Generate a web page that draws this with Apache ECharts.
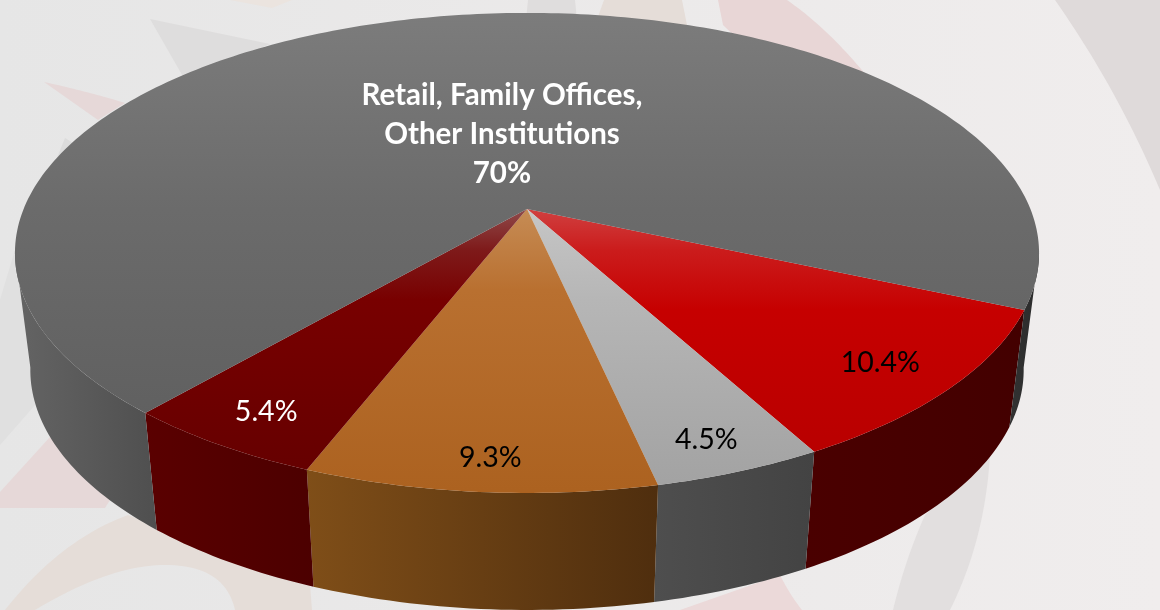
<!DOCTYPE html>
<html><head><meta charset="utf-8">
<style>html,body{margin:0;padding:0;background:#eaeaea}#c{width:1160px;height:610px}</style>
<script src="https://cdn.jsdelivr.net/npm/echarts@6/dist/echarts.min.js"></script>
</head><body><div id="c"></div>
<script>
const sliceNames = ['Red', 'Silver', 'Orange', 'Dark red', 'Retail, Family Offices, Other Institutions'];
const sliceValues = [10.4, 4.5, 9.3, 5.4, 70];
const sliceLabels = ['10.4%', '4.5%', '9.3%', '5.4%', 'Retail, Family Offices,\nOther Institutions\n70%'];

const START_DEG = 23.8;
const CX = 527, CY = 209, A = 503.4, B = 232, K = 0.183;   // perspective disc
const WALL_SCALE = 0.97, WALL_DROP = 117;

const labelAnchor = [[43, .857], [70.2, .89], [93.9, .895], [120.8, .873], [261.4, .354]];
const labelFill = ['#000', '#000', '#000', '#fff', '#fff'];
const labelWeight = ['normal', 'normal', 'normal', 'normal', 'bold'];

function vgrad(y0, y1, stops) {
  return {type: 'linear', x: 0, y: y0, x2: 0, y2: y1, global: true,
    colorStops: stops.map(s => ({offset: (s[0] - y0) / (y1 - y0), color: s[1]}))};
}
function hgrad(x0, x1, stops) {
  return {type: 'linear', x: x0, y: 0, x2: x1, y2: 0, global: true,
    colorStops: stops.map(s => ({offset: (s[0] - x0) / (x1 - x0), color: s[1]}))};
}
const topFills = [
  vgrad(209, 460, [[209, '#d04040'], [250, '#cb1c1c'], [310, '#c60000'], [460, '#b80000']]),
  vgrad(209, 490, [[209, '#c6c6c6'], [300, '#b6b6b6'], [490, '#a2a2a2']]),
  vgrad(209, 490, [[209, '#c68c55'], [290, '#b97030'], [490, '#ac6220']]),
  vgrad(209, 475, [[209, '#8f4a4a'], [250, '#7e1a1a'], [300, '#780000'], [475, '#650000']]),
  vgrad(13, 420, [[13, '#7c7c7c'], [209, '#6b6b6b'], [420, '#606060']])
];
const wallFills = [
  hgrad(806, 1026, [[806, '#4a0000'], [1026, '#430000']]),
  hgrad(655, 814, [[655, '#4e4e4e'], [814, '#434343']]),
  hgrad(307, 658, [[307, '#7f4e18'], [658, '#4f2e0e']]),
  hgrad(146, 314, [[146, '#5a0000'], [314, '#4c0000']]),
  hgrad(15, 1040, [[15, '#646464'], [157, '#4f4f4f'], [1005, '#333333'], [1040, '#2b2b2b']])
];

function project(deg, r) {
  const t = deg * Math.PI / 180, u = r * Math.cos(t), v = r * Math.sin(t), w = 1 - K * v;
  return [CX + A * u / w, CY + B * v / w];
}
function under(p) {
  return [CX + WALL_SCALE * (p[0] - CX), p[1] + WALL_DROP];
}
function sliceAngles(i) {
  const total = sliceValues.reduce((a, b) => a + b, 0);
  let s = 0;
  for (let k = 0; k < i; k++) s += sliceValues[k];
  return [START_DEG + s / total * 360, START_DEG + (s + sliceValues[i]) / total * 360];
}

// Angular ranges of the rim that face the viewer (between the disc's two tangent points)
const FRONT = [[10, 170], [370, 530]];
function renderWall(params, api) {
  const i = params.dataIndex, [a0, a1] = sliceAngles(i), fill = wallFills[i];
  const children = [];
  FRONT.forEach(r => {
    const lo = Math.max(a0, r[0]), hi = Math.min(a1, r[1]);
    if (hi <= lo) return;
    const upper = [], n = Math.ceil(hi - lo);
    for (let k = 0; k <= n; k++) upper.push(project(lo + (hi - lo) * k / n, 1));
    const pts = upper.concat(upper.map(under).reverse());
    children.push({type: 'polygon', shape: {points: pts}, style: {fill: fill}});
  });
  return {type: 'group', children};
}
function renderTop(params, api) {
  const i = params.dataIndex, [a0, a1] = sliceAngles(i);
  const pts = [[CX, CY]];
  const n = Math.ceil((a1 - a0) / 1);
  for (let k = 0; k <= n; k++) pts.push(project(a0 + (a1 - a0) * k / n, 1));
  return {type: 'polygon', shape: {points: pts}, style: {fill: topFills[i]}};
}
function renderLabel(params, api) {
  const i = params.dataIndex, p = project(labelAnchor[i][0], labelAnchor[i][1]);
  return {type: 'text', x: p[0], y: p[1] + 1.5, style: {
    text: sliceLabels[i], fill: labelFill[i], align: 'center', verticalAlign: 'middle',
    fontFamily: 'Lato', fontSize: i === 4 ? 29.5 : 28.5, fontWeight: labelWeight[i], lineHeight: 39}};
}

// Faint watermark behind the pie: outlines with optional quadratic curve segments
const backdrop = [
  ['1055,0 Q1118,90 1160,190 1160,0', '#dfdada'],
  ['718,0 723,25 760,60 870,80 Q830,30 787,0', '#e8d6d6'],
  ['604,0 595,25 690,40 682,0', '#e5ddd8'],
  ['528,0 526,20 577,20 575,0', '#dfdddd'],
  ['230,0 272,8 292,0', '#ebe4df'],
  ['150,19 185,80 270,44', '#dedddd'],
  ['44,82 Q90,92 125,103 98,120', '#e6d8d8'],
  ['65,138 78,146 50,175', '#dcdcdc'],
  ['15,250 0,300 0,445 35,405 30,340', '#e0e0e0'],
  ['0,492 50,437 110,500 105,508 0,508', '#e6d8d8'],
  ['5,610 Q60,540 128,515 310,585 312,610 235,610 Q225,565 165,565 Q110,565 35,610', '#e5ddd8'],
  ['680,610 780,575 Q790,595 802,610', '#ebd9d9'],
  ['990,455 Q985,540 950,610 893,610 Q905,560 925,515', '#e2dfdf']
];
function outline(str) {
  const out = [], toks = str.split(' ');
  for (let i = 0; i < toks.length; i++) {
    if (toks[i][0] === 'Q') {
      const c = toks[i].slice(1).split(',').map(Number), e = toks[++i].split(',').map(Number), s = out[out.length - 1];
      for (let k = 1; k <= 24; k++) {
        const t = k / 24, m = 1 - t;
        out.push([m * m * s[0] + 2 * m * t * c[0] + t * t * e[0], m * m * s[1] + 2 * m * t * c[1] + t * t * e[1]]);
      }
    } else out.push(toks[i].split(',').map(Number));
  }
  return out;
}

const chart = echarts.init(document.getElementById('c'), null, {renderer: 'canvas', width: 1160, height: 610});
const rows = sliceNames.map((n, i) => ({name: n, value: sliceValues[i]}));
chart.setOption({
  animation: false,
  backgroundColor: {type: 'linear', x: 0, y: 0, x2: 1, y2: 0,
    colorStops: [{offset: 0, color: '#e6e6e6'}, {offset: 1, color: '#f0eded'}]},
  graphic: backdrop.map(b => ({type: 'polygon', z: 0, silent: true,
    shape: {points: outline(b[0])}, style: {fill: b[1]}})),
  series: [
    {type: 'custom', coordinateSystem: 'none', z: 2, silent: true, data: rows, renderItem: renderWall},
    {type: 'custom', coordinateSystem: 'none', z: 3, silent: true, data: rows, renderItem: renderTop},
    {type: 'custom', coordinateSystem: 'none', z: 4, silent: true, data: rows, renderItem: renderLabel}
  ]
});
</script></body></html>
